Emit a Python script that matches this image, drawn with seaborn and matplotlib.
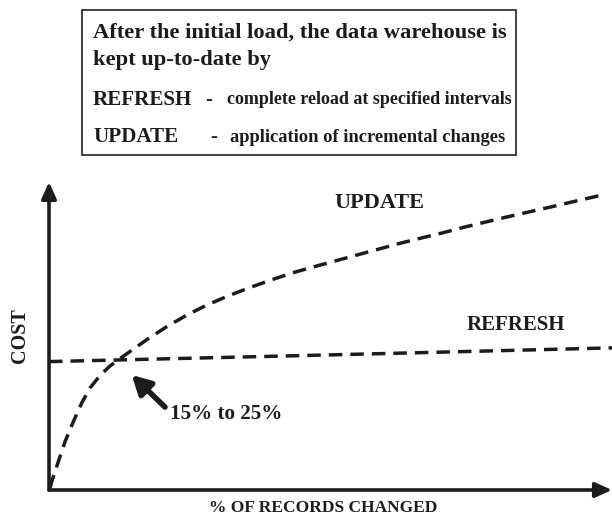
"""
Refresh vs update cost diagram (data warehouse maintenance)
- two dashed cost curves against % of records changed
- explanatory text box above the plot
"""

import pandas as pd
import matplotlib
matplotlib.use('Agg')
import matplotlib.pyplot as plt
from matplotlib.patches import Rectangle
import seaborn as sns

sns.set_style("white")
plt.rcParams['font.family'] = ['Liberation Serif', 'DejaVu Serif']

INK = '#1c1c1c'

# values (x = % of records changed, y = relative cost)
update_x = [0.18, 0.48, 1.65, 2.84, 4.32, 5.81, 7.28, 9.06, 10.83, 12.61, 14.39, 17.41,
            20.96, 24.51, 28.06, 31.79, 35.70, 39.43, 43.16, 46.89, 50.80, 54.71, 58.44,
            62.34, 65.90, 69.80, 73.89, 77.80, 81.53, 85.44, 89.34, 93.07, 97.87]
update_y = [0.66, 2.72, 9.28, 15.84, 22.39, 28.52, 33.44, 37.54, 40.66, 43.11, 45.41, 49.34,
            53.61, 57.38, 60.66, 63.61, 66.39, 68.85, 71.15, 73.11, 75.08, 77.05, 78.92,
            80.89, 82.52, 84.26, 86.23, 87.97, 89.61, 91.25, 92.89, 94.52, 96.56]
refresh_x = [0.0, 50.0, 100.0]
refresh_y = [42.1, 44.3, 46.6]

box_lines = [
    'After the initial load, the data warehouse is',
    'kept up-to-date by',
]
legend_terms = ['REFRESH', 'UPDATE']
legend_desc = ['complete reload at specified intervals', 'application of incremental changes']

df = pd.concat([
    pd.DataFrame({'x': update_x, 'y': update_y, 'method': 'UPDATE'}),
    pd.DataFrame({'x': refresh_x, 'y': refresh_y, 'method': 'REFRESH'}),
], ignore_index=True)

W, H = 612, 521
fig = plt.figure(figsize=(W / 100, H / 100), dpi=100)
ax = fig.add_axes([49 / W, 1 - 490 / H, 563 / W, 305 / H])

sns.lineplot(data=df, x='x', y='y', hue='method', palette={'UPDATE': INK, 'REFRESH': INK},
             sort=False, estimator=None, legend=False, ax=ax, linewidth=2.5)
for line in ax.lines:
    line.set_linestyle((0, (3.9, 2.3)))
    line.set_dash_capstyle('butt')
    line.set_solid_joinstyle('round')

ax.set_xlim(0, 100)
ax.set_ylim(0, 100)
ax.set_xticks([])
ax.set_yticks([])
ax.set_xlabel('')
ax.set_ylabel('')
for s in ax.spines.values():
    s.set_visible(False)

# axes drawn as arrows
arrow = dict(arrowstyle='-|>,head_length=1.0,head_width=0.45', lw=2.6, color=INK,
             shrinkA=0, shrinkB=0)
ax.annotate('', xy=(0, 1.01), xytext=(0, 0), xycoords='axes fraction', arrowprops=arrow,
            annotation_clip=False)
ax.annotate('', xy=(1.0, 0), xytext=(0, 0), xycoords='axes fraction', arrowprops=arrow,
            annotation_clip=False)

bold = dict(fontweight='bold', color=INK)

# curve labels
ax.text(58.6, 94.0, 'UPDATE', ha='center', va='center', fontsize=16, **bold)
ax.text(82.9, 54.1, 'REFRESH', ha='center', va='center', fontsize=15, **bold)

# crossover annotation
ax.annotate('', xy=(14.7, 37.7), xytext=(20.6, 27.2),
            arrowprops=dict(arrowstyle='-|>,head_length=1.1,head_width=0.6', lw=4,
                            color=INK, shrinkA=0, shrinkB=0))
ax.text(31.4, 24.9, '15% to 25%', ha='center', va='center', fontsize=15.2, **bold)

# axis titles
fig.text(20 / W, 1 - 336 / H, 'COST', rotation=90, ha='center', va='center',
         fontsize=14.5, **bold)
fig.text(323 / W, 1 - 508 / H, '% OF RECORDS CHANGED', ha='center', va='center',
         fontsize=12.5, **bold)

# explanation box
fig.patches.append(Rectangle((82 / W, 1 - 155 / H), (516 - 82) / W, 145 / H,
                             transform=fig.transFigure, fill=False, lw=1.3,
                             edgecolor='#333333'))
tx = 93 / W
fig.text(tx, 1 - 33 / H, box_lines[0], ha='left', va='center', fontsize=16.2, **bold)
fig.text(tx, 1 - 60 / H, box_lines[1], ha='left', va='center', fontsize=16.2, **bold)
for yy, term, dash_x, desc_x, desc, desc_fs in zip([100, 137], legend_terms, [205, 210],
                                                   [227, 230], legend_desc, [13, 13.3]):
    fig.text(tx, 1 - yy / H, term, ha='left', va='center', fontsize=15.2, **bold)
    fig.text(dash_x / W, 1 - yy / H, '-', ha='left', va='center', fontsize=15, **bold)
    fig.text(desc_x / W, 1 - yy / H, desc, ha='left', va='center', fontsize=desc_fs, **bold)

fig.savefig('out.png', dpi=100)
